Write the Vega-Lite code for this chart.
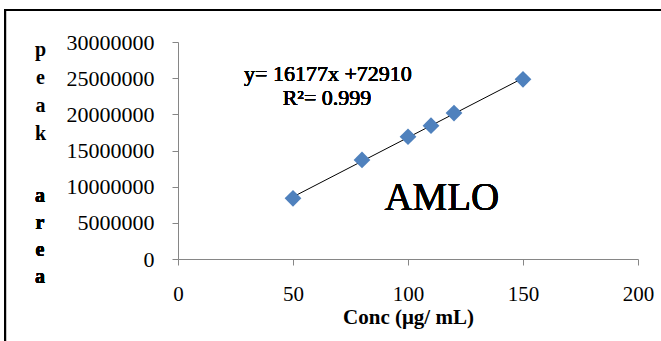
{
  "$schema": "https://vega.github.io/schema/vega-lite/v6.json",
  "autosize": "none",
  "width": 460,
  "height": 217,
  "padding": {"left": 178, "top": 42, "right": 23, "bottom": 82},
  "background": "white",
  "config": {
    "view": {"stroke": null},
    "font": "Liberation Serif"
  },
  "data": {
    "values": [
      {"conc": 50, "area": 8390000},
      {"conc": 80, "area": 13690000},
      {"conc": 100, "area": 16900000},
      {"conc": 110, "area": 18430000},
      {"conc": 120, "area": 20180000},
      {"conc": 150, "area": 24840000}
    ]
  },
  "encoding": {
    "x": {
      "field": "conc", "type": "quantitative",
      "scale": {"domain": [0, 200], "nice": false, "zero": false},
      "axis": {
        "values": [0, 50, 100, 150, 200],
        "grid": false,
        "domainColor": "#868686", "tickColor": "#868686",
        "tickSize": 6, "labelPadding": 18,
        "labelFont": "Liberation Serif", "labelFontSize": 21, "labelColor": "#000",
        "labelFlush": false,
        "title": "Conc (μg/ mL)",
        "titleFont": "Liberation Serif", "titleFontSize": 21, "titleFontWeight": "bold",
        "titleColor": "#000", "titleBaseline": "alphabetic", "titleY": 64
      }
    },
    "y": {
      "field": "area", "type": "quantitative",
      "scale": {"domain": [0, 30000000], "nice": false},
      "axis": {
        "values": [0, 5000000, 10000000, 15000000, 20000000, 25000000, 30000000],
        "format": "d",
        "grid": false,
        "domainColor": "#868686", "tickColor": "#868686",
        "tickSize": 6, "labelPadding": 18,
        "labelFont": "Liberation Serif", "labelFontSize": 22, "labelColor": "#000",
        "labelFlush": false,
        "title": ["p", "e", "a", "k"],
        "titleAngle": 0, "titleAlign": "center", "titleBaseline": "alphabetic",
        "titleX": -138, "titleY": 13, "titleLineHeight": 28,
        "titleFont": "Liberation Serif", "titleFontSize": 20, "titleFontWeight": "bold",
        "titleColor": "#000"
      }
    }
  },
  "layer": [
    {
      "mark": {"type": "rect", "fill": null, "stroke": "black", "strokeWidth": 2, "clip": false},
      "encoding": {
        "x": {"datum": -75.2},
        "x2": {"datum": 230},
        "y": {"datum": 34420000},
        "y2": {"datum": -20000000}
      }
    },
    {
      "transform": [{"regression": "area", "on": "conc"}],
      "mark": {"type": "line", "color": "black", "strokeWidth": 1}
    },
    {
      "mark": {"type": "point", "shape": "diamond", "filled": true, "size": 280, "color": "#4F81BD", "opacity": 1}
    },
    {
      "mark": {"type": "text", "fontSize": 22, "fontWeight": "normal", "font": "Liberation Serif", "align": "center", "baseline": "alphabetic", "color": "#000"},
      "encoding": {
        "x": {"datum": 65.2},
        "y": {"datum": 24650000},
        "text": {"value": "y= 16177x +72910"}
      }
    },
    {
      "mark": {"type": "text", "fontSize": 22, "fontWeight": "normal", "font": "Liberation Serif", "align": "center", "baseline": "alphabetic", "color": "#000"},
      "encoding": {
        "x": {"datum": 64.8},
        "y": {"datum": 21290000},
        "text": {"value": "R²= 0.999"}
      }
    },
    {
      "mark": {"type": "text", "fontSize": 39, "fontWeight": "normal", "font": "Liberation Serif", "align": "center", "baseline": "alphabetic", "color": "#000"},
      "encoding": {
        "x": {"datum": 114.7},
        "y": {"datum": 6770000},
        "text": {"value": "AMLO"}
      }
    },
    {
      "mark": {"type": "text", "fontSize": 20, "fontWeight": "bold", "font": "Liberation Serif", "align": "center", "baseline": "alphabetic", "color": "#000", "lineHeight": 27, "clip": false},
      "encoding": {
        "x": {"datum": -60},
        "y": {"datum": 7880000},
        "text": {"value": ["a", "r", "e", "a"]}
      }
    }
  ]
}
